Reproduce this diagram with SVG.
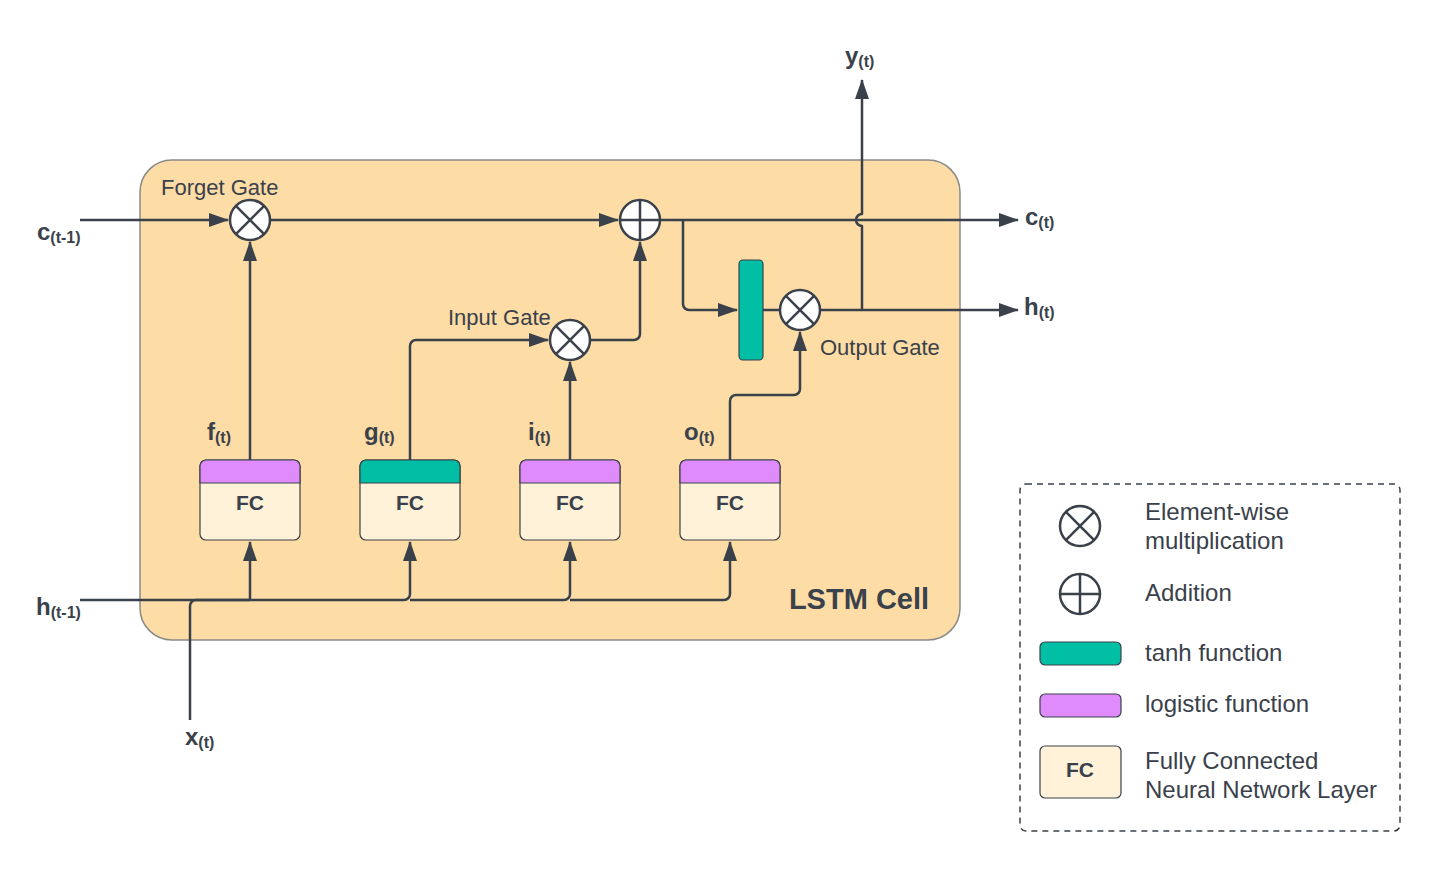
<svg xmlns="http://www.w3.org/2000/svg" width="1440" height="872" viewBox="0 0 1440 872">
<defs>
<marker id="ah" viewBox="0 0 20 14" refX="19" refY="7" markerWidth="20" markerHeight="14" orient="auto" markerUnits="userSpaceOnUse">
<path d="M0,0 L20,7 L0,14 z" fill="#3a414a"/>
</marker>
<style>
.ln{fill:none;stroke:#3a414a;stroke-width:2.5;stroke-linejoin:round}
.op{fill:#ffffff;stroke:#3a414a;stroke-width:2.5}
.opl{fill:none;stroke:#3a414a;stroke-width:2.5}
.t{font-family:"Liberation Sans",Arial,sans-serif;fill:#3a414a}
.lbl{font-family:"Liberation Sans",Arial,sans-serif;fill:#3a414a;font-weight:bold;font-size:24px}
.sub{font-size:16px}
.fc{fill:#fff2d9;stroke:#3a414a;stroke-width:1.2}
.pur{fill:#df8bfc;stroke:#3a414a;stroke-width:1.2}
.tea{fill:#00bfa5;stroke:#3a414a;stroke-width:1.2}
</style>
</defs>
<rect width="1440" height="872" fill="#ffffff"/>

<g id="cell">
<rect x="140" y="160" width="820" height="480" rx="32" fill="#fddca6" stroke="#8a8a8a" stroke-width="1.5"/>
<text class="t" x="859" y="609" font-size="29" font-weight="bold" text-anchor="middle">LSTM Cell</text>
</g>

<g id="connectors">
<path class="ln" d="M80,220 H228" marker-end="url(#ah)"/>
<path class="ln" d="M270,220 H618" marker-end="url(#ah)"/>
<path class="ln" d="M660,220 H1018" marker-end="url(#ah)"/>
<path class="ln" d="M683,220 V304 a6,6 0 0 0 6,6 H737" marker-end="url(#ah)"/>
<path class="ln" d="M763,310 H780"/>
<path class="ln" d="M820,310 H1018" marker-end="url(#ah)"/>
<path class="ln" d="M862,310 V226 a6,6 0 0 1 0,-12 V80" marker-end="url(#ah)"/>
<path class="ln" d="M250,460 V242" marker-end="url(#ah)"/>
<path class="ln" d="M410,460 V346 a6,6 0 0 1 6,-6 H548" marker-end="url(#ah)"/>
<path class="ln" d="M570,460 V362" marker-end="url(#ah)"/>
<path class="ln" d="M590,340 H634 a6,6 0 0 0 6,-6 V242" marker-end="url(#ah)"/>
<path class="ln" d="M730,460 V401 a6,6 0 0 1 6,-6 H794 a6,6 0 0 0 6,-6 V332" marker-end="url(#ah)"/>
<path class="ln" d="M80,600 H250"/>
<path class="ln" d="M250,600 V542" marker-end="url(#ah)"/>
<path class="ln" d="M190,720 V606 a6,6 0 0 1 6,-6 H404 a6,6 0 0 0 6,-6 V542" marker-end="url(#ah)"/>
<path class="ln" d="M410,600 H564 a6,6 0 0 0 6,-6 V542" marker-end="url(#ah)"/>
<path class="ln" d="M570,600 H724 a6,6 0 0 0 6,-6 V542" marker-end="url(#ah)"/>
</g>

<g id="forget-mult">
<circle class="op" cx="250" cy="220" r="20"/>
<path class="opl" d="M235.9,205.9 L264.1,234.1 M264.1,205.9 L235.9,234.1"/>
<text class="t" x="161" y="195" font-size="22">Forget Gate</text>
</g>
<g id="add">
<circle class="op" cx="640" cy="220" r="20"/>
<path class="opl" d="M620,220 H660 M640,200 V240"/>
</g>
<g id="input-mult">
<circle class="op" cx="570" cy="340" r="20"/>
<path class="opl" d="M555.9,325.9 L584.1,354.1 M584.1,325.9 L555.9,354.1"/>
<text class="t" x="448" y="325" font-size="22">Input Gate</text>
</g>
<g id="output-mult">
<circle class="op" cx="800" cy="310" r="20"/>
<path class="opl" d="M785.9,295.9 L814.1,324.1 M814.1,295.9 L785.9,324.1"/>
<text class="t" x="820" y="355" font-size="22">Output Gate</text>
</g>
<g id="tanh-bar">
<rect class="tea" x="739" y="260" width="24" height="100" rx="4"/>
</g>

<g id="fc-f">
<rect class="fc" x="200" y="460" width="100" height="80" rx="6"/>
<path class="pur" d="M200,483 V466 a6,6 0 0 1 6,-6 H294 a6,6 0 0 1 6,6 V483 z"/>
<text class="t" x="250" y="510" font-size="21" font-weight="bold" text-anchor="middle">FC</text>
<text class="lbl" x="207" y="440">f<tspan class="sub" dy="3">(t)</tspan></text>
</g>
<g id="fc-g">
<rect class="fc" x="360" y="460" width="100" height="80" rx="6"/>
<path class="tea" d="M360,483 V466 a6,6 0 0 1 6,-6 H454 a6,6 0 0 1 6,6 V483 z"/>
<text class="t" x="410" y="510" font-size="21" font-weight="bold" text-anchor="middle">FC</text>
<text class="lbl" x="364" y="440">g<tspan class="sub" dy="3">(t)</tspan></text>
</g>
<g id="fc-i">
<rect class="fc" x="520" y="460" width="100" height="80" rx="6"/>
<path class="pur" d="M520,483 V466 a6,6 0 0 1 6,-6 H614 a6,6 0 0 1 6,6 V483 z"/>
<text class="t" x="570" y="510" font-size="21" font-weight="bold" text-anchor="middle">FC</text>
<text class="lbl" x="528" y="440">i<tspan class="sub" dy="3">(t)</tspan></text>
</g>
<g id="fc-o">
<rect class="fc" x="680" y="460" width="100" height="80" rx="6"/>
<path class="pur" d="M680,483 V466 a6,6 0 0 1 6,-6 H774 a6,6 0 0 1 6,6 V483 z"/>
<text class="t" x="730" y="510" font-size="21" font-weight="bold" text-anchor="middle">FC</text>
<text class="lbl" x="684" y="440">o<tspan class="sub" dy="3">(t)</tspan></text>
</g>

<g id="io-labels">
<text class="lbl" x="37" y="240">c<tspan class="sub" dy="3">(t-1)</tspan></text>
<text class="lbl" x="36" y="615">h<tspan class="sub" dy="3">(t-1)</tspan></text>
<text class="lbl" x="185" y="745">x<tspan class="sub" dy="3">(t)</tspan></text>
<text class="lbl" x="845" y="64">y<tspan class="sub" dy="3">(t)</tspan></text>
<text class="lbl" x="1025" y="225">c<tspan class="sub" dy="3">(t)</tspan></text>
<text class="lbl" x="1024" y="315">h<tspan class="sub" dy="3">(t)</tspan></text>
</g>

<g id="legend">
<rect x="1020" y="484" width="380" height="347" rx="6" fill="none" stroke="#3a414a" stroke-width="1.5" stroke-dasharray="6,5"/>
<circle class="op" cx="1080" cy="526" r="20"/>
<path class="opl" d="M1065.9,511.9 L1094.1,540.1 M1094.1,511.9 L1065.9,540.1"/>
<circle class="op" cx="1080" cy="594" r="20"/>
<path class="opl" d="M1060,594 H1100 M1080,574 V614"/>
<rect class="tea" x="1040" y="642" width="81" height="23" rx="5"/>
<rect class="pur" x="1040" y="694" width="81" height="23" rx="5"/>
<rect class="fc" x="1040" y="746" width="81" height="52" rx="5"/>
<text class="t" x="1080" y="777" font-size="21" font-weight="bold" text-anchor="middle">FC</text>
<text class="t" x="1145" y="520" font-size="24">Element-wise</text>
<text class="t" x="1145" y="549" font-size="24">multiplication</text>
<text class="t" x="1145" y="601" font-size="24">Addition</text>
<text class="t" x="1145" y="661" font-size="24">tanh function</text>
<text class="t" x="1145" y="712" font-size="24">logistic function</text>
<text class="t" x="1145" y="769" font-size="24">Fully Connected</text>
<text class="t" x="1145" y="798" font-size="24">Neural Network Layer</text>
</g>
</svg>
